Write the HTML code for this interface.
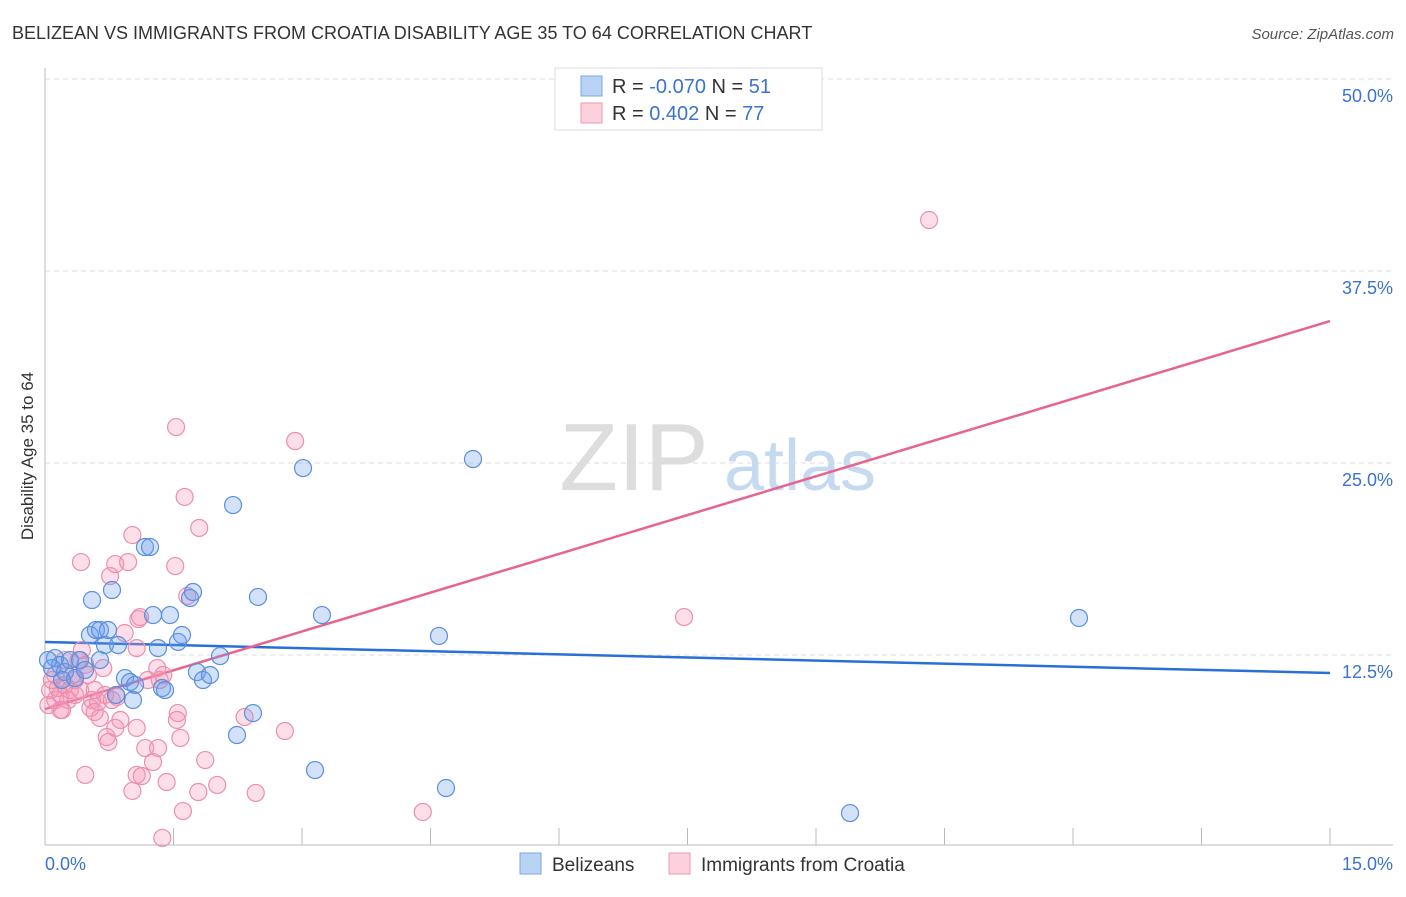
<!DOCTYPE html>
<html><head><meta charset="utf-8"><style>
body{margin:0;background:#fff;font-family:"Liberation Sans",sans-serif}
svg text{font-family:"Liberation Sans",sans-serif}
</style></head><body>
<svg id="chart" width="1406" height="892" xmlns="http://www.w3.org/2000/svg">
<text x="12" y="39" font-size="18" fill="#333">BELIZEAN VS IMMIGRANTS FROM CROATIA DISABILITY AGE 35 TO 64 CORRELATION CHART</text>
<text x="1394" y="39" font-size="15" fill="#555" text-anchor="end" font-style="italic">Source: ZipAtlas.com</text>
<text transform="translate(33,456) rotate(-90)" font-size="17" fill="#333" text-anchor="middle">Disability Age 35 to 64</text>
<g><text x="634" y="490" font-size="96" fill="#ddd" font-family="Liberation Serif" text-anchor="middle">ZIP</text><text x="800" y="490" font-size="72" fill="#c5d9f0" text-anchor="middle">atlas</text></g>
<g id="grid"></g><g id="axes"></g><g id="lines"></g><g id="pts"></g>
<g>
<rect x="555" y="68" width="267" height="62" fill="#fff" stroke="#ddd"/>
<rect x="581" y="76" width="21" height="20" fill="#b9d3f5" stroke="#7aa7e6"/>
<rect x="581" y="103" width="21" height="20" fill="#fcd0dc" stroke="#ee9ab4"/>
<text x="612" y="93" font-size="20" fill="#333">R = <tspan fill="#3b73d0">-0.070</tspan>   N =  <tspan fill="#3b73d0">51</tspan></text>
<text x="612" y="120" font-size="20" fill="#333">R =   <tspan fill="#3b73d0">0.402</tspan>   N = <tspan fill="#3b73d0">77</tspan></text>
</g>
<g>
<rect x="520" y="853" width="21" height="21" fill="#b9d3f5" stroke="#7aa7e6"/>
<text x="552" y="871" font-size="19" fill="#333">Belizeans</text>
<rect x="669" y="853" width="21" height="21" fill="#fcd0dc" stroke="#ee9ab4"/>
<text x="701" y="871" font-size="19" fill="#333">Immigrants from Croatia</text>
</g>
</svg>
<script>
const blueX=[0.117,0.175,0.082,0.233,0.292,0.35,0.409,0.467,0.525,0.549,0.595,0.642,0.7,0.735,0.782,0.852,0.829,0.934,0.992,1.051,1.027,1.167,1.226,1.261,1.319,1.366,1.401,1.459,1.553,1.599,1.693,1.728,1.774,1.844,1.926,2.043,2.195,2.241,2.428,2.486,3.012,3.152,3.233,4.599,4.681,4.996,9.397,12.07,0.198,0.035,0.642];
const blueY=[12.3,11.85,11.65,11.39,12.17,11.0,12.17,11.52,13.8,16.08,14.13,14.13,13.15,14.13,16.73,13.15,9.9,11.0,10.74,10.55,9.57,19.53,19.53,15.1,12.95,10.35,10.22,15.1,13.35,13.8,16.21,16.6,11.39,10.87,11.2,12.43,22.26,7.29,8.72,16.28,24.67,5.01,15.1,13.74,3.84,25.26,2.21,14.91,10.87,12.17,12.17];
const pinkX=[1.02,1.8,0.42,0.82,0.97,0.76,1.52,1.66,1.09,1.11,0.93,1.07,0.68,1.31,1.38,1.2,0.84,0.62,0.53,0.2,0.64,0.88,0.82,0.72,0.74,1.07,1.55,1.54,1.58,2.33,2.8,1.17,1.32,1.26,1.87,0.47,1.07,1.13,1.42,1.02,1.79,2.01,2.46,1.61,1.37,10.32,2.92,7.46,4.41,1.53,1.63,1.34,0.06,0.12,0.08,0.15,0.18,0.23,0.29,0.27,0.32,0.35,0.39,0.41,0.47,0.5,0.55,0.18,0.04,0.12,0.58,0.43,0.23,0.35,0.7,0.78,0.58];
const pinkY=[20.31,20.77,18.55,18.42,18.55,17.64,18.29,16.34,14.84,14.97,13.93,12.95,11.65,11.65,11.2,10.87,9.77,9.44,9.05,8.92,8.4,8.27,7.75,7.16,6.84,7.75,8.72,8.27,7.1,8.46,7.55,6.44,6.44,5.53,5.66,4.69,4.69,4.62,4.23,3.65,3.58,4.04,3.52,2.34,0.59,40.82,26.43,14.97,2.28,27.34,22.79,10.87,10.22,9.57,10.87,10.35,9.9,10.55,10.22,9.57,11.2,10.87,12.17,10.22,11.85,11.2,9.57,8.92,9.24,11.2,10.22,12.82,12.17,9.9,9.9,9.57,8.79];
const blueTrend=[13.35,11.33];
const pinkTrend=[8.98,34.24];
const yTicks=[12.5,25,37.5,50];
const yTickLabels=["12.5%","25.0%","37.5%","50.0%"];
const xTicks=[1,2,3,4,5,6,7,8,9,10,11,12,13,14,15];
const NS="http://www.w3.org/2000/svg";
const X=v=>45+v/15*1285, Y=v=>847-v/12.5*192;
function mk(t,a,p){const e=document.createElementNS(NS,t);for(const k in a)e.setAttribute(k,a[k]);document.getElementById(p).appendChild(e);return e;}
yTicks.forEach((v,i)=>{
 const g=mk('line',{x1:45,x2:1393,y1:Y(v),y2:Y(v),stroke:'#ddd','stroke-dasharray':'5,4'},'grid');
 
 
 const t=mk('text',{x:1393,y:Y(v)+23,'font-size':18,fill:'#3b73d0','text-anchor':'end'},'axes');
 t.textContent=yTickLabels[i];
 
 
});
const ya=mk('line',{x1:45,x2:45,y1:68,y2:845,stroke:'#bbb'},'axes');


const xa=mk('line',{x1:45,x2:1393,y1:845,y2:845,stroke:'#bbb'},'axes');


xTicks.forEach(v=>{if(v%1.5>0.01&&Math.abs(v%1.5-1.5)>0.01)return;});
for(let i=1;i<=10;i++){const v=i*1.5;
 const l=mk('line',{x1:X(v),x2:X(v),y1:828,y2:845,stroke:'#bbb'},'axes');
 
 }
const x0=mk('text',{x:45,y:870,'font-size':18,fill:'#3b73d0'},'axes');x0.textContent='0.0%';


const x1=mk('text',{x:1393,y:870,'font-size':18,fill:'#3b73d0','text-anchor':'end'},'axes');x1.textContent='15.0%';


function pts(xs,ys,fill,stroke,name){xs.forEach((x,i)=>{const c=mk('circle',{cx:X(x),cy:Y(ys[i]),r:8.5,fill:fill,stroke:stroke,'stroke-width':1.2},'pts');
 
 });}
pts(pinkX,pinkY,'rgba(244,150,180,0.3)','#ec8fae','point-croatia');
pts(blueX,blueY,'rgba(110,160,235,0.3)','#5a8fe0','point-belizeans');
const bl=mk('line',{x1:X(0),y1:Y(blueTrend[0]),x2:X(15),y2:Y(blueTrend[1]),stroke:'#2a6fd6','stroke-width':2.5},'lines');


const pl=mk('line',{x1:X(0),y1:Y(pinkTrend[0]),x2:X(15),y2:Y(pinkTrend[1]),stroke:'#e8648f','stroke-width':2.5},'lines');


</script>
</body></html>
